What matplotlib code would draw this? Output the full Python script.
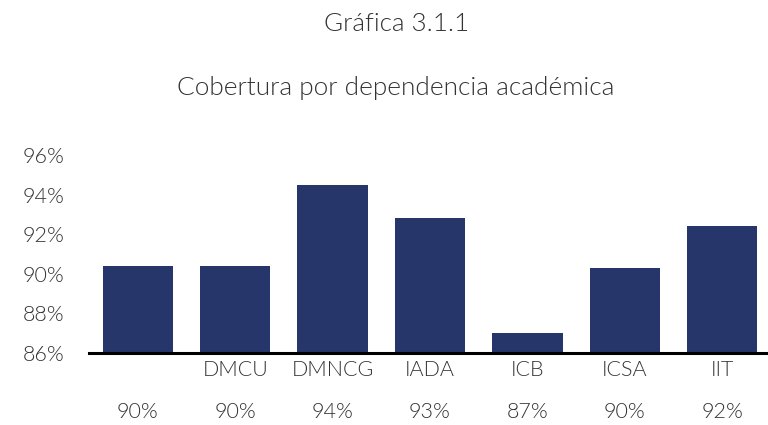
import matplotlib.pyplot as plt
import matplotlib.ticker as mticker

categories = ['', 'DMCU', 'DMNCG', 'IADA', 'ICB', 'ICSA', 'IIT']
coverage = [90.4, 90.4, 94.5, 92.8, 87.0, 90.3, 92.4]
table_labels = ['90%', '90%', '94%', '93%', '87%', '90%', '92%']
y_ticks = [86, 88, 90, 92, 94, 96]

plt.rcParams['font.family'] = ['Lato', 'DejaVu Sans']
plt.rcParams['font.weight'] = 300
txt_col = '#333333'
bar_col = '#26366A'

fig = plt.figure(figsize=(7.68, 4.25), dpi=100)
# axes: bottom at y=353px, top (96%) at y=155px, width spans 7 slots of 97.5px
ax = fig.add_axes([89 / 768, (425 - 353) / 425, 682 / 768, 198 / 425])

x = range(len(categories))
ax.bar(x, coverage, width=0.72, color=bar_col, bottom=0)
ax.set_ylim(86, 96)
ax.set_xlim(-0.5, len(categories) - 0.5)
ax.set_yticks(y_ticks)
ax.yaxis.set_major_formatter(mticker.FuncFormatter(lambda v, p: '%d%%' % v))
ax.tick_params(axis='y', length=0, pad=18, labelsize=15.5, labelcolor=txt_col)
ax.set_xticks(list(x))
ax.set_xticklabels(categories)
ax.tick_params(axis='x', length=0, pad=5, labelsize=15.5, labelcolor=txt_col)
for s in ['top', 'right', 'left']:
    ax.spines[s].set_visible(False)
ax.spines['bottom'].set_linewidth(2.2)
ax.spines['bottom'].set_color('black')

# data table row below the categories
for i, lab in enumerate(table_labels):
    ax.text(i, -0.3, lab, transform=ax.get_xaxis_transform(), ha='center', va='center',
            fontsize=15.5, color=txt_col)

fig.text(397 / 768, 1 - 24 / 425, 'Gráfica 3.1.1', ha='center', va='center',
         fontsize=18.7, color=txt_col)
fig.text(396 / 768, 1 - 88 / 425, 'Cobertura por dependencia académica', ha='center',
         va='center', fontsize=18.9, color=txt_col)

fig.savefig('out.png', dpi=100)
